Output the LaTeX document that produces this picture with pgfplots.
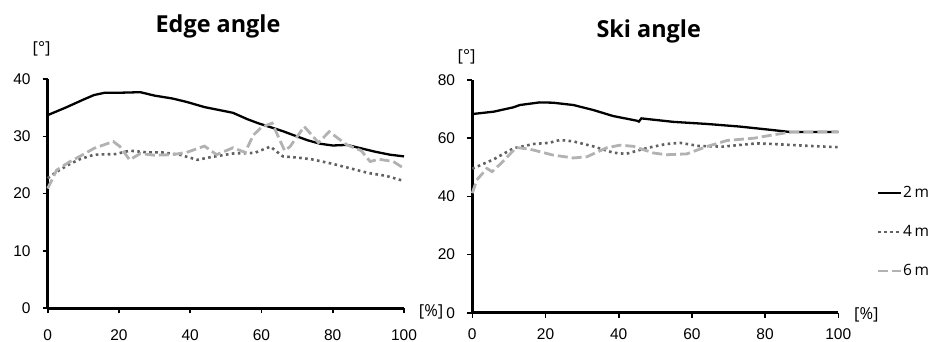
\documentclass[border=0pt]{standalone}
\usepackage{pgfplots}
\pgfplotsset{compat=1.18}
\usepackage{fontspec}
\setmainfont{Liberation Sans}
\newfontfamily\segoe{Open Sans}
\tikzset{lab/.style={font=\segoe\fontsize{16.5bp}{18bp}\selectfont}}
\begin{document}
\begin{tikzpicture}
\useasboundingbox (0bp,0bp) rectangle (928bp,342bp);
\pgfplotsset{
  myaxis/.style={
    scale only axis,
    xmin=0, xmax=100, ymin=0,
    axis x line=bottom, axis y line=left,
    axis line style={line width=2.4bp, black, -},
    tick style={line width=1.6bp, black},
    tick align=outside,
    major tick length=5bp,
    xtick={0,20,...,100},
    /pgf/number format/assume math mode=true,
    ticklabel style={font=\fontsize{15.5bp}{17bp}\selectfont, inner sep=0pt},
    yticklabel style={anchor=east, xshift=-12bp},
    clip=false,
  },
  s2/.style={black, line width=2.3bp},
  s4/.style={color=black!62, line width=2.6bp, dash pattern=on 2.6bp off 3.4bp},
  s6/.style={color=black!30, line width=2.8bp, dash pattern=on 10bp off 4bp},
}
% Left: Edge angle
\begin{axis}[myaxis, at={(47.7bp,33.7bp)}, anchor=south west,
  width=356.3bp, height=229.3bp, ymax=40, ytick={0,10,...,40},
  xticklabel style={anchor=north, yshift=-16bp}]
\addplot[s2] coordinates {(0,33.7)(5,35.0)(10,36.4)(13,37.2)(16,37.6)(20,37.6)(26,37.7)(30,37.1)(35,36.6)(39,36.0)(44,35.1)(48,34.6)(52,34.1)(56,33.0)(59,32.3)(62,31.7)(66,30.9)(69,30.2)(73,29.3)(76.5,28.7)(80,28.4)(84,28.5)(88,27.9)(92,27.3)(96,26.8)(100,26.5)};
\addplot[s4] coordinates {(0,22.7)(3,24.0)(6,25.1)(9,26.0)(13,26.8)(19,26.9)(23,27.5)(28,27.2)(32,27.2)(37,26.8)(42,25.9)(46,26.4)(52,27.0)(58,27.1)(62.5,28.2)(66,26.5)(70,26.3)(74,26.0)(80,25.2)(85,24.4)(90,23.6)(95,23.1)(100,22.2)};
\addplot[s6] coordinates {(0,20.9)(2.5,24.1)(6,25.5)(9,26.5)(13,27.9)(18.4,29.1)(20.3,28.2)(23,25.9)(26,27.0)(30,26.7)(35,26.8)(39,27.2)(44,28.3)(47.4,26.8)(52,28.0)(55.4,27.2)(57.7,30.2)(60,31.6)(63,32.3)(66.5,27.5)(68,28.2)(72,31.7)(76,28.9)(79,30.8)(84,28.5)(88,27.5)(90.5,25.6)(93,26.0)(97,25.6)(100,24.4)};
\node[font=\segoe\bfseries\fontsize{23.4bp}{26bp}\selectfont, anchor=base] at (axis description cs:0.478,1) [yshift=46bp] {Edge angle};
\node[lab] at (axis description cs:-0.017,1.131) {[°]};
\node[lab] at (axis description cs:1.076,-0.015) {[\%]};
\end{axis}
% Right: Ski angle
\begin{axis}[myaxis, at={(472.3bp,29.3bp)}, anchor=south west,
  width=366bp, height=232.7bp, ymax=80, ytick={0,20,...,80},
  xticklabel style={anchor=north, yshift=-11bp},
  legend style={at={(axis description cs:1.105,0.546)}, anchor=north west, draw=none, fill=none,
    font=\segoe\fontsize{15.5bp}{17bp}\selectfont, row sep=25.5bp, inner sep=0pt,
    nodes={inner sep=0.5bp}},
  legend cell align=left,
  legend image code/.code={\draw[#1] (0bp,0bp) -- (23bp,0bp);}]
\addplot[s2] coordinates {(0,68.3)(5.8,69.1)(11.2,70.6)(13,71.4)(18.4,72.3)(22,72.2)(27.6,71.4)(33,69.7)(38.5,67.6)(45,66.0)(45.5,65.7)(46.2,66.8)(55,65.6)(64,64.9)(73,64.0)(82,62.8)(87,62.1)(100,62.1)};
\addlegendentry{2\,m}
\addplot[s4] coordinates {(0,49.5)(5.8,52.7)(11.2,56.5)(16.7,58.0)(21,58.4)(24,59.4)(27.6,58.9)(33,57.2)(38.5,55.0)(42,54.6)(47.6,56.6)(53,58.0)(56.7,58.4)(62,57.3)(68.5,57.1)(77.6,58.2)(82,58.0)(91,57.4)(100,56.9)};
\addlegendentry{4\,m}
\addplot[s6] coordinates {(0,41.1)(1.2,45.6)(4,49.6)(5.4,48.5)(8,51.5)(12,56.8)(15.8,56.2)(22,54.2)(27.6,53.2)(31.3,53.6)(36.7,56.7)(40.4,57.6)(44,57.2)(49.5,54.9)(53,54.3)(58.6,54.6)(64,57.1)(69.6,59.2)(77,60.0)(82,61.1)(87,62.1)(100,62.2)};
\addlegendentry{6\,m}
\node[font=\segoe\bfseries\fontsize{23.4bp}{26bp}\selectfont, anchor=base] at (axis description cs:0.482,1) [yshift=42.7bp] {Ski angle};
\node[lab] at (axis description cs:-0.0153,1.099) {[°]};
\node[lab] at (axis description cs:1.0765,-0.01) {[\%]};
\end{axis}
\end{tikzpicture}
\end{document}
